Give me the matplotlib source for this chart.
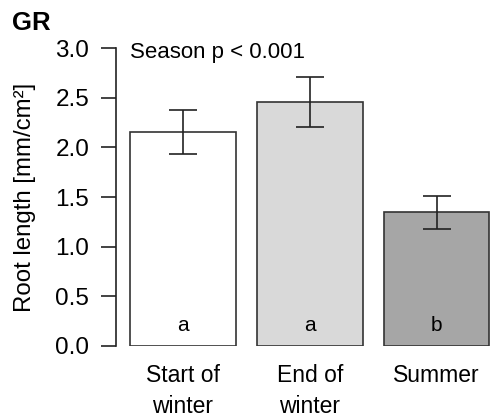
import numpy as np
import matplotlib.pyplot as plt

plt.rcParams['font.family'] = ['Liberation Sans', 'DejaVu Sans']

# Data
seasons = ["Start of\nwinter", "End of\nwinter", "Summer"]
root_length = [2.16, 2.46, 1.35]
err_low = [1.93, 2.21, 1.18]
err_high = [2.38, 2.71, 1.51]
letters = ["a", "a", "b"]
colors = ["#ffffff", "#d9d9d9", "#a6a6a6"]

fig = plt.figure(figsize=(4.92, 4.17), dpi=100)
ax = fig.add_axes([0.235, 0.171, 0.789, 0.713])

x = 0.7 + 1.2*np.arange(len(seasons))     # R barplot positions (width 1, space 0.2)
ax.bar(x, root_length, width=1.0, color=colors, edgecolor="#333333", linewidth=1.2)

yerr = [np.array(root_length) - np.array(err_low), np.array(err_high) - np.array(root_length)]
ax.errorbar(x, root_length, yerr=yerr, fmt='none', ecolor="#222222",
            elinewidth=1.2, capsize=10, capthick=1.2)

for xi, l in zip(x, letters):
    ax.text(xi, 0.2, l, ha='center', va='center', fontsize=15)

ax.text(0.2, 2.96, "Season p < 0.001", ha='left', va='center', fontsize=16)

ax.set_xlim(0.064, 3.736)
ax.set_ylim(0, 3.0)
ax.set_yticks([0, 0.5, 1.0, 1.5, 2.0, 2.5, 3.0])
ax.set_yticklabels(["0.0", "0.5", "1.0", "1.5", "2.0", "2.5", "3.0"])
ax.set_xticks(x)
ax.set_xticklabels(seasons, fontsize=16.5, linespacing=1.45)
ax.tick_params(axis='x', length=0, pad=13)
ax.tick_params(axis='y', length=11, width=1.2, pad=8, labelsize=17.5, color="#222222")

for s in ['top', 'right', 'bottom']:
    ax.spines[s].set_visible(False)
ax.spines['left'].set_linewidth(1.2)
ax.spines['left'].set_color("#222222")
ax.spines['left'].set_bounds(0, 3.0)

ax.set_ylabel("Root length [mm/cm²]", fontsize=17.3, labelpad=14)
fig.text(0.024, 0.944, "GR", fontsize=18.5, fontweight='bold', ha='left', va='center')

plt.savefig("out.png", dpi=100)
